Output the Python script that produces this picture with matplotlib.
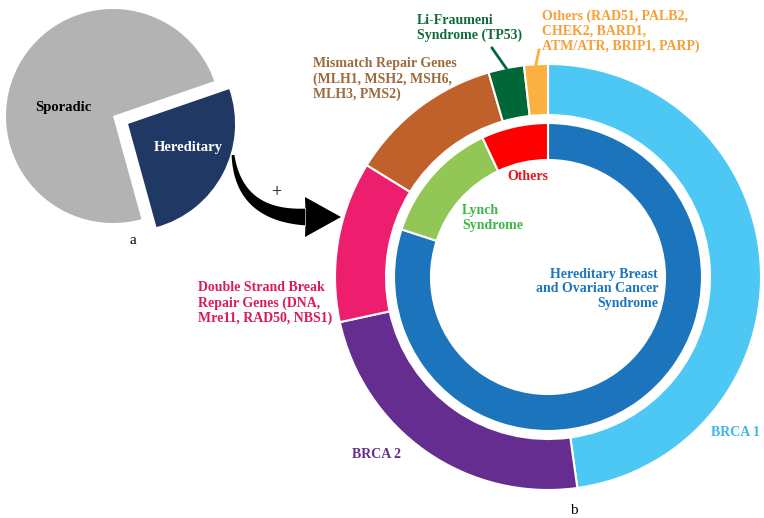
import matplotlib.pyplot as plt
from matplotlib.patches import Polygon
import numpy as np

# --- data ---
pie_labels = ['Sporadic', 'Hereditary']
pie_values = [74, 26]
pie_colors = ['#b3b3b3', '#203864']

outer_labels = ['BRCA 1', 'BRCA 2',
                'Double Strand Break\nRepair Genes (DNA,\nMre11, RAD50, NBS1)',
                'Mismatch Repair Genes\n(MLH1, MSH2, MSH6,\nMLH3, PMS2)',
                'Li-Fraumeni\nSyndrome (TP53)',
                'Others (RAD51, PALB2,\nCHEK2, BARD1,\nATM/ATR, BRIP1, PARP)']
outer_values = [47.8, 23.8, 12.2, 11.7, 2.7, 1.8]
outer_colors = ['#4dc8f4', '#662d91', '#ed1e6e', '#c0612b', '#006838', '#fbb040']
outer_text_colors = ['#3cb6e6', '#662d91', '#d81b60', '#9c6b3c', '#106b3a', '#f5a03a']

inner_labels = ['Hereditary Breast\nand Ovarian Cancer\nSyndrome', 'Lynch\nSyndrome', 'Others']
inner_values = [80, 13, 7]
inner_colors = ['#1c75bc', '#92c755', '#ff0000']
inner_text_colors = ['#1c75bc', '#3db54a', '#e8141b']

W, H = 764, 518
plt.rcParams['font.family'] = ['Liberation Serif', 'DejaVu Serif']

fig = plt.figure(figsize=(W / 100, H / 100), dpi=100)
ax = fig.add_axes([0, 0, 1, 1])

def py(y):
    # pixel row from top -> data y
    return H - y

# --- panel a: small pie ---
ax.pie(pie_values, colors=pie_colors, center=(113, py(116)), radius=107,
       startangle=19, explode=[0, 17], frame=True)
ax.text(63, py(107), pie_labels[0], fontsize=10.5, fontweight='bold',
        color='black', ha='center', va='center')
ax.text(188, py(148), pie_labels[1], fontsize=10.5, fontweight='bold',
        color='white', ha='center', va='center')
ax.text(133, py(240), 'a', fontsize=11, ha='center', va='center')

# --- panel b: nested donut ---
cx, cy = 548, py(277)
ax.pie(outer_values, colors=outer_colors, center=(cx, cy), radius=213,
       startangle=90, counterclock=False, frame=True,
       wedgeprops=dict(width=51, edgecolor='white', linewidth=1.5))
ax.pie(inner_values, colors=inner_colors, center=(cx, cy), radius=154,
       startangle=90, counterclock=False, frame=True,
       wedgeprops=dict(width=37, edgecolor='white', linewidth=1.5))
ax.text(574, py(510), 'b', fontsize=11, ha='center', va='center')

# outer ring labels
fs = 10
ax.text(735, py(433), outer_labels[0], fontsize=fs, fontweight='bold',
        color=outer_text_colors[0], ha='center', va='center')
ax.text(377, py(455), outer_labels[1], fontsize=fs, fontweight='bold',
        color=outer_text_colors[1], ha='center', va='center')
ax.text(198, py(303), outer_labels[2], fontsize=fs, fontweight='bold',
        color=outer_text_colors[2], ha='left', va='center', linespacing=1.15)
ax.text(313, py(79), outer_labels[3], fontsize=fs, fontweight='bold',
        color=outer_text_colors[3], ha='left', va='center', linespacing=1.15)

# leader lines for the two thin wedges
cum = np.cumsum([0] + outer_values)
total = cum[-1]
for i, (tx, ty) in zip([4, 5], [(492, 48), (539, 50)]):
    mid = 90 - 360 * (cum[i] + cum[i + 1]) / 2 / total
    ex = cx + 213 * np.cos(np.radians(mid))
    ey = cy + 213 * np.sin(np.radians(mid))
    ax.plot([tx, ex], [py(ty), ey], color=outer_colors[i], lw=2)
ax.text(417, py(28), outer_labels[4], fontsize=fs, fontweight='bold',
        color=outer_text_colors[4], ha='left', va='center', linespacing=1.15)
ax.text(542, py(31), outer_labels[5], fontsize=fs, fontweight='bold',
        color=outer_text_colors[5], ha='left', va='center', linespacing=1.15)

# inner ring labels
ax.text(658, py(289), inner_labels[0], fontsize=fs, fontweight='bold',
        color=inner_text_colors[0], ha='right', va='center', linespacing=1.15)
ax.text(462, py(218), inner_labels[1], fontsize=fs, fontweight='bold',
        color=inner_text_colors[1], ha='left', va='center', linespacing=1.15)
ax.text(528, py(177), inner_labels[2], fontsize=fs, fontweight='bold',
        color=inner_text_colors[2], ha='center', va='center')

# curved tapering arrow from the hereditary slice to the donut
p0 = np.array([233, py(155)])
p1 = np.array([239, py(216)])
p2 = np.array([306, py(217)])
t = np.linspace(0, 1, 60)[:, None]
curve = (1 - t) ** 2 * p0 + 2 * (1 - t) * t * p1 + t ** 2 * p2
deriv = 2 * (1 - t) * (p1 - p0) + 2 * t * (p2 - p1)
normal = np.column_stack([-deriv[:, 1], deriv[:, 0]])
normal /= np.linalg.norm(normal, axis=1)[:, None]
half_w = (1.4 + 7.0 * t)
upper = curve + normal * half_w
lower = curve - normal * half_w
head = np.array([[305, py(197)], [341, py(217)], [305, py(237)]])
arrow_pts = np.vstack([lower, head, upper[::-1]])
ax.add_patch(Polygon(arrow_pts, closed=True, facecolor='black', edgecolor='none'))
ax.text(276, py(193), '+', fontsize=13, ha='center', va='center')

ax.set_xlim(0, W)
ax.set_ylim(0, H)
ax.set_aspect('equal')
ax.axis('off')

fig.savefig('out.png', dpi=100)
